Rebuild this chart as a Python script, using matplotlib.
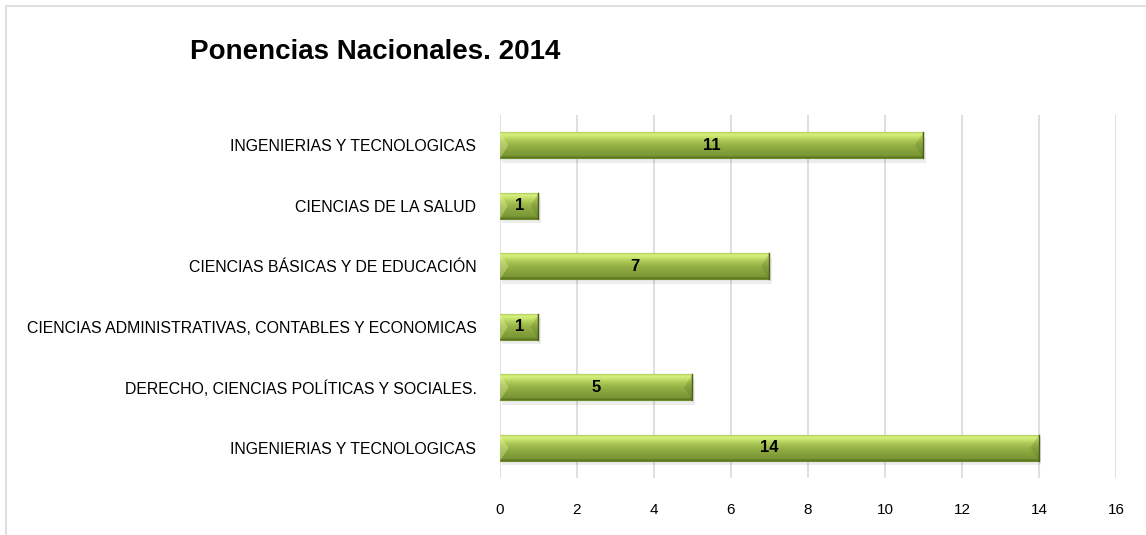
import numpy as np
import matplotlib.pyplot as plt
from matplotlib.colors import LinearSegmentedColormap
from matplotlib.patches import Rectangle, Polygon

# Data (top to bottom as shown in the chart)
categories = [
    "INGENIERIAS Y TECNOLOGICAS",
    "CIENCIAS DE LA SALUD",
    "CIENCIAS BÁSICAS Y DE EDUCACIÓN",
    "CIENCIAS ADMINISTRATIVAS, CONTABLES Y ECONOMICAS",
    "DERECHO, CIENCIAS POLÍTICAS Y SOCIALES.",
    "INGENIERIAS Y TECNOLOGICAS",
]
values = [11, 1, 7, 1, 5, 14]
x_ticks = [0, 2, 4, 6, 8, 10, 12, 14, 16]

plt.rcParams["font.family"] = ["Liberation Sans", "DejaVu Sans"]

fig = plt.figure(figsize=(11.46, 5.35), dpi=100)
ax = fig.add_axes([0.4363, 0.1065, 0.5375, 0.6785])

# Light border around the chart area
fig.patches.append(Rectangle((6 / 1146, -0.01), 1.05, 1 - 6 / 535 + 0.01,
                             transform=fig.transFigure, fill=False,
                             edgecolor="#d9d9d9", linewidth=1.2))

n = len(categories)
ypos = np.arange(n)[::-1]
bar_h = 0.43
bevel_x = 0.22  # bevel depth at the bar ends, in data units

# Bevel-like green gradient (bottom -> top)
green = LinearSegmentedColormap.from_list("bevel", [
    (0.0, "#566c1c"), (0.08, "#7a9636"), (0.3, "#88a43e"), (0.5, "#98b548"),
    (0.65, "#abc857"), (0.8, "#c8e46e"), (0.9, "#d8f282"), (1.0, "#9cbc40")])
grad = np.linspace(0, 1, 64).reshape(-1, 1)

for y, v in zip(ypos, values):
    # soft shadow
    ax.barh(y - 0.07, v, height=bar_h, left=0.06, color="#000000", alpha=0.07,
            zorder=2, linewidth=0)
    bars = ax.barh(y, v, height=bar_h, color="#a0be44", edgecolor="#6f8c2a",
                   linewidth=0.8, zorder=3)
    im = ax.imshow(grad, cmap=green, aspect="auto", origin="lower",
                   extent=(0, v, y - bar_h / 2, y + bar_h / 2), zorder=3.5,
                   interpolation="bicubic")
    im.set_clip_path(bars[0])
    b = min(bevel_x, v * 0.2)
    ax.add_patch(Polygon([(0, y - bar_h / 2), (b, y), (0, y + bar_h / 2)],
                         closed=True, facecolor="#e8f8a8", alpha=0.35,
                         linewidth=0, zorder=3.6))
    ax.add_patch(Polygon([(v, y - bar_h / 2), (v - b, y), (v, y + bar_h / 2)],
                         closed=True, facecolor="#3f5214", alpha=0.18,
                         linewidth=0, zorder=3.6))
    ax.plot([v, v], [y - bar_h / 2, y + bar_h / 2], color="#4a5e1a",
            linewidth=1.0, zorder=3.7)
    ax.text(v / 2, y, str(v), ha="center", va="center", fontsize=12,
            fontweight="bold", color="black", zorder=5)

ax.set_xlim(0, 16)
ax.set_ylim(-0.5, n - 0.5)
ax.set_xticks(x_ticks)
ax.set_xticklabels([str(t) for t in x_ticks], fontsize=11)
ax.set_yticks(ypos)
ax.set_yticklabels(categories, fontsize=11.4)
ax.tick_params(axis="both", length=0)
ax.tick_params(axis="x", pad=18)
ax.tick_params(axis="y", pad=17)

ax.grid(axis="x", color="#d9d9d9", linewidth=1.2, zorder=0)
ax.set_axisbelow(True)
for s in ax.spines.values():
    s.set_visible(False)

fig.text(190 / 1146, 1 - 52 / 535, "Ponencias Nacionales. 2014", fontsize=20,
         fontweight="bold", ha="left", va="center")

fig.savefig("out.png", dpi=100)
